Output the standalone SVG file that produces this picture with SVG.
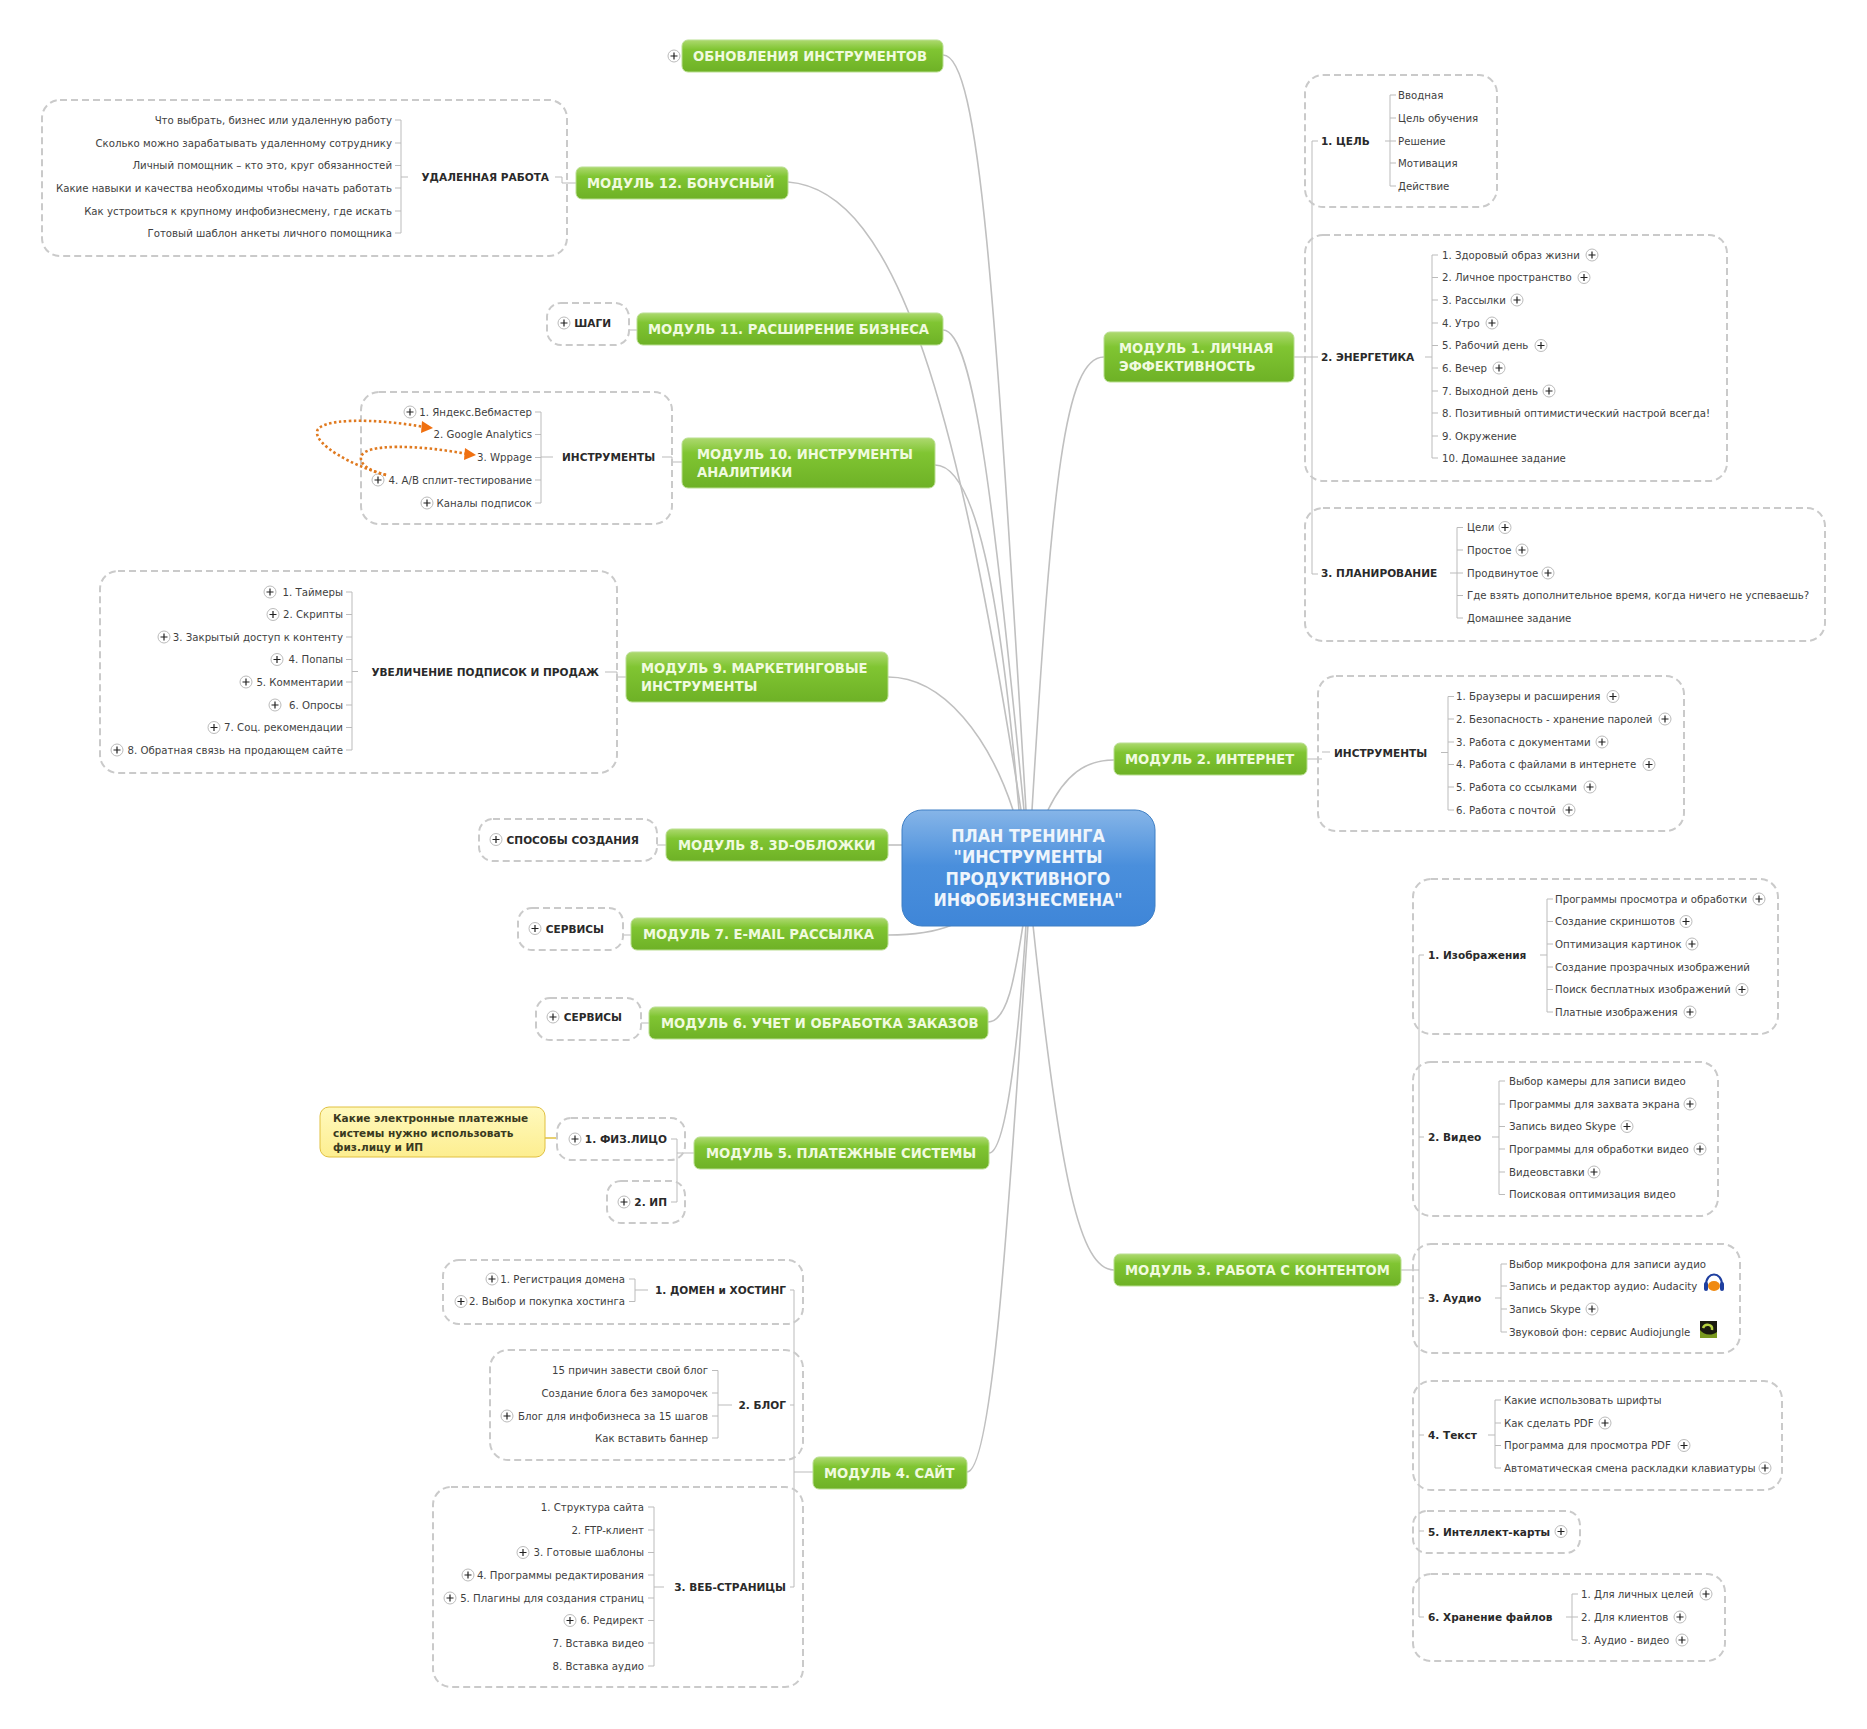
<svg xmlns="http://www.w3.org/2000/svg" width="1867" height="1729" viewBox="0 0 1867 1729">
<style>
text{font-family:"DejaVu Sans","Verdana",sans-serif;font-size:10.2px;fill:#3f3f3f;dominant-baseline:central}
.e{text-anchor:end}
.l{font-weight:bold;font-size:10.55px;fill:#2a2a2a}
.m{font-family:"DejaVu Sans Condensed","DejaVu Sans",sans-serif;font-stretch:condensed;font-weight:bold;font-size:14.65px;fill:#f0fadf;dominant-baseline:auto}
.c{font-family:"DejaVu Sans Condensed","DejaVu Sans",sans-serif;font-stretch:condensed;font-weight:bold;font-size:17.7px;fill:#eef5fc;text-anchor:middle;dominant-baseline:auto}
.y{font-weight:bold;font-size:10.55px;fill:#3a3a20;dominant-baseline:auto}
.b{fill:none;stroke:#cacaca;stroke-width:2;stroke-dasharray:7 4}
.g{fill:url(#gr);stroke:#b9de90;stroke-width:1}
.w{fill:none;stroke:#c0c0c0;stroke-width:1.6}
.t{fill:none;stroke:#bbb;stroke-width:1}
.o{fill:none;stroke:#e07a20;stroke-width:2.6;stroke-dasharray:2.500 2.500}
</style>
<defs>
<linearGradient id="gr" x1="0" y1="0" x2="0" y2="1"><stop offset="0" stop-color="#add96f"/><stop offset=".3" stop-color="#80c532"/><stop offset="1" stop-color="#6eb126"/></linearGradient>
<linearGradient id="bl" x1="0" y1="0" x2="0" y2="1"><stop offset="0" stop-color="#86b5e8"/><stop offset=".48" stop-color="#4a8fdc"/><stop offset="1" stop-color="#3f86d8"/></linearGradient>
<linearGradient id="ye" x1="0" y1="0" x2="0" y2="1"><stop offset="0" stop-color="#fff9bd"/><stop offset="1" stop-color="#fdee90"/></linearGradient>
<g id="p"><circle r="6" fill="#fff" stroke="#bbb"/><path d="M-3.500 0H3.500M0-3.500V3.500" stroke="#222" stroke-width="1.200"/></g>
</defs>
<rect width="1867" height="1729" fill="#fff"/>
<g id="connectors">
<path class="w" d="M943 55C980 55 995 300 1026 810"/>
<path class="w" d="M788 182C900 190 960 420 1021 810"/>
<path class="w" d="M943 330C975 330 995 520 1024 810"/>
<path class="w" d="M935 465C975 465 1000 590 1019 810"/>
<path class="w" d="M888 677C945 677 990 740 1013 810"/>
<path class="w" d="M888 845H902"/>
<path class="w" d="M888 935C910 935 935 932 952 925"/>
<path class="w" d="M988 1022C1008 1022 1015 975 1023 925"/>
<path class="w" d="M989 1153C1005 1153 1018 1050 1026 925"/>
<path class="w" d="M967 1472C995 1472 1012 1150 1028 925"/>
<path class="w" d="M1104 357C1065 357 1052 480 1032 810"/>
<path class="w" d="M1114 760C1085 760 1065 775 1048 810"/>
<path class="w" d="M1114 1270C1080 1270 1060 1180 1033 925"/>
<path class="t" d="M1294 357H1312M1312 141V574M1312 141H1318M1312 357H1318M1312 574H1318"/>
<path class="t" d="M1385 141H1390M1396 95H1390V186H1396M1390 118H1396M1390 141H1396M1390 163H1396"/>
<path class="t" d="M1425 357H1432M1438 255H1432V458H1438M1432 277.500H1438M1432 300H1438M1432 323H1438M1432 345.500H1438M1432 368H1438M1432 391H1438M1432 413H1438M1432 436H1438"/>
<path class="t" d="M1450 573H1457M1463 527.500H1457V618H1463M1457 550H1463M1457 573H1463M1457 595.500H1463"/>
<path class="t" d="M1307 759H1322M1322 752H1330M1441 752.500H1448M1454 696.500H1448V810H1454M1448 719H1454M1448 742H1454M1448 764.500H1454M1448 787H1454"/>
<path class="t" d="M1401 1270H1419M1419 955V1617M1419 955H1424M1419 1137H1424M1419 1298H1424M1419 1435H1424M1419 1531H1424M1419 1617H1424"/>
<path class="t" d="M1540 955H1547M1553 899H1547V1012H1553M1547 921.500H1553M1547 944H1553M1547 967H1553M1547 989.500H1553"/>
<path class="t" d="M1492 1137H1499M1505 1081H1499V1194.500H1505M1499 1104H1505M1499 1126.500H1505M1499 1149H1505M1499 1172H1505"/>
<path class="t" d="M1495 1298H1501M1507 1264H1501V1332H1507M1501 1286H1507M1501 1309H1507"/>
<path class="t" d="M1488 1435H1495M1501 1400H1495V1468H1501M1495 1423H1501M1495 1445.500H1501"/>
<path class="t" d="M1566 1617H1572M1578 1594H1572V1640H1578M1572 1617H1578"/>
<path class="t" d="M576 183H562V177H555M408 177H401M395 120H401V233H395M401 143H395M401 165.500H395M401 188H395M401 211H395"/>
<path class="t" d="M637 330H629M666 845H657M631 935H623M649 1023H641"/>
<path class="t" d="M682 462H672V457H662M553 457H541M535 412H541V503H535M541 434.500H535M541 457.500H535M541 480H535"/>
<path class="t" d="M626 677H617V672H605M358 671.500H352M346 592H352V750H346M352 614.500H346M352 637H346M352 659.500H346M352 682H346M352 705H346M352 727.500H346"/>
<path class="t" d="M694 1153H677M671 1139H677V1202H671"/>
<path d="M545 1138H557" fill="none" stroke="#e0c040" stroke-width="1.500"/>
<path class="t" d="M813 1472H794M794 1290V1587M794 1290H790M794 1405H790M794 1587H790"/>
<path class="t" d="M648 1290H635M629 1279H635V1301.500H629"/>
<path class="t" d="M732 1405H718M712 1370.500H718V1438H712M718 1393H712M718 1416H712"/>
<path class="t" d="M664 1587H654M648 1507H654V1666H648M654 1530H648M654 1552.500H648M654 1575H648M654 1598H648M654 1620.500H648M654 1643H648"/>
</g>
<g id="central"><rect x="902" y="810" width="253" height="116" rx="20" fill="url(#bl)" stroke="#3f7fc4"/>
<text class="c" x="1028" y="842">ПЛАН ТРЕНИНГА</text><text class="c" x="1028" y="863">"ИНСТРУМЕНТЫ</text><text class="c" x="1028" y="885">ПРОДУКТИВНОГО</text><text class="c" x="1028" y="906">ИНФОБИЗНЕСМЕНА"</text></g>
<g id="updates"><use href="#p" x="674" y="56"/><rect class="g" x="682" y="40" width="261" height="32" rx="6"/><text class="m" x="693" y="61">ОБНОВЛЕНИЯ ИНСТРУМЕНТОВ</text></g>
<g id="m12"><rect class="g" x="576" y="167" width="212" height="32" rx="6"/><text class="m" x="587" y="188">МОДУЛЬ 12. БОНУСНЫЙ</text></g>
<g id="m12a"><rect class="b" x="42" y="100" width="525" height="156" rx="18"/><text class="l e" x="549" y="177">УДАЛЕННАЯ РАБОТА</text>
<text class="e" x="392" y="120">Что выбрать, бизнес или удаленную работу</text><text class="e" x="392" y="143">Сколько можно зарабатывать удаленному сотруднику</text><text class="e" x="392" y="165.500">Личный помощник – кто это, круг обязанностей</text><text class="e" x="392" y="188">Какие навыки и качества необходимы чтобы начать работать</text><text class="e" x="392" y="211">Как устроиться к крупному инфобизнесмену, где искать</text><text class="e" x="392" y="233">Готовый шаблон анкеты личного помощника</text></g>
<g id="m11"><rect class="g" x="637" y="313" width="306" height="32" rx="6"/><text class="m" x="648" y="334">МОДУЛЬ 11. РАСШИРЕНИЕ БИЗНЕСА</text></g>
<g id="m11a"><rect class="b" x="547" y="303" width="82" height="42" rx="14"/><use href="#p" x="564" y="323"/><text class="l e" x="611" y="323">ШАГИ</text></g>
<g id="m10"><rect class="g" x="682" y="438" width="253" height="50" rx="6"/><text class="m" x="697" y="459">МОДУЛЬ 10. ИНСТРУМЕНТЫ</text><text class="m" x="697" y="477">АНАЛИТИКИ</text></g>
<g id="m10a"><rect class="b" x="361" y="392" width="311" height="132" rx="18"/><text class="l" x="562" y="457">ИНСТРУМЕНТЫ</text>
<use href="#p" x="410" y="412"/><text class="e" x="532" y="412">1. Яндекс.Вебмастер</text><text class="e" x="532" y="434.500">2. Google Analytics</text><text class="e" x="532" y="457">3. Wppage</text><use href="#p" x="378" y="480"/><text class="e" x="532" y="480">4. A/B сплит-тестирование</text><use href="#p" x="427" y="503"/><text class="e" x="532" y="503">Каналы подписок</text></g>
<g id="relations"><path class="o" d="M386 475C350 465 316 445 317 432C318 418 375 418 424 427"/><path d="M433 428L422 421L421 433Z" fill="#f07010"/>
<path class="o" d="M386 475C365 470 360 462 361 457C364 443 420 445 467 454"/><path d="M476 455L465 448L464 460Z" fill="#f07010"/></g>
<g id="m9"><rect class="g" x="626" y="652" width="262" height="50" rx="6"/><text class="m" x="641" y="673">МОДУЛЬ 9. МАРКЕТИНГОВЫЕ</text><text class="m" x="641" y="691">ИНСТРУМЕНТЫ</text></g>
<g id="m9a"><rect class="b" x="100" y="571" width="517" height="202" rx="18"/><text class="l e" x="599" y="671.500">УВЕЛИЧЕНИЕ ПОДПИСОК И ПРОДАЖ</text>
<use href="#p" x="270" y="592"/><text class="e" x="343" y="592">1. Таймеры</text><use href="#p" x="273" y="614.500"/><text class="e" x="343" y="614.500">2. Скрипты</text><use href="#p" x="164" y="637"/><text class="e" x="343" y="637">3. Закрытый доступ к контенту</text><use href="#p" x="277" y="659.500"/><text class="e" x="343" y="659.500">4. Попапы</text><use href="#p" x="246" y="682"/><text class="e" x="343" y="682">5. Комментарии</text><use href="#p" x="275" y="705"/><text class="e" x="343" y="705">6. Опросы</text><use href="#p" x="214" y="727.500"/><text class="e" x="343" y="727.500">7. Соц. рекомендации</text><use href="#p" x="117" y="750"/><text class="e" x="343" y="750">8. Обратная связь на продающем сайте</text></g>
<g id="m8"><rect class="g" x="666" y="829" width="222" height="32" rx="6"/><text class="m" x="678" y="850">МОДУЛЬ 8. 3D-ОБЛОЖКИ</text></g>
<g id="m8a"><rect class="b" x="479" y="819" width="178" height="42" rx="14"/><use href="#p" x="496" y="839.500"/><text class="l e" x="639" y="839.500">СПОСОБЫ СОЗДАНИЯ</text></g>
<g id="m7"><rect class="g" x="631" y="918" width="257" height="32" rx="6"/><text class="m" x="643" y="939">МОДУЛЬ 7. E-MAIL РАССЫЛКА</text></g>
<g id="m7a"><rect class="b" x="518" y="908" width="105" height="42" rx="14"/><use href="#p" x="535" y="928.500"/><text class="l e" x="604" y="928.500">СЕРВИСЫ</text></g>
<g id="m6"><rect class="g" x="649" y="1007" width="339" height="32" rx="6"/><text class="m" x="661" y="1028">МОДУЛЬ 6. УЧЕТ И ОБРАБОТКА ЗАКАЗОВ</text></g>
<g id="m6a"><rect class="b" x="536" y="998" width="105" height="42" rx="14"/><use href="#p" x="553" y="1017"/><text class="l e" x="622" y="1017">СЕРВИСЫ</text></g>
<g id="m5"><rect class="g" x="694" y="1137" width="295" height="32" rx="6"/><text class="m" x="706" y="1158">МОДУЛЬ 5. ПЛАТЕЖНЫЕ СИСТЕМЫ</text></g>
<g id="m5a"><rect class="b" x="557" y="1118" width="128" height="42" rx="14"/><use href="#p" x="575" y="1139"/><text class="l e" x="667" y="1139">1. ФИЗ.ЛИЦО</text></g>
<g id="m5b"><rect class="b" x="607" y="1181" width="78" height="42" rx="14"/><use href="#p" x="624" y="1202"/><text class="l e" x="667" y="1202">2. ИП</text></g>
<g id="note"><rect x="320" y="1107" width="225" height="50" rx="9" fill="url(#ye)" stroke="#e0c040"/><text class="y" x="333" y="1122">Какие электронные платежные</text><text class="y" x="333" y="1136.500">системы нужно использовать</text><text class="y" x="333" y="1151">физ.лицу и ИП</text></g>
<g id="m4"><rect class="g" x="813" y="1457" width="154" height="32" rx="6"/><text class="m" x="824" y="1478">МОДУЛЬ 4. САЙТ</text></g>
<g id="m4a"><rect class="b" x="443" y="1260" width="360" height="64" rx="16"/><text class="l e" x="786" y="1290">1. ДОМЕН и ХОСТИНГ</text><use href="#p" x="492" y="1279"/><text class="e" x="625" y="1279">1. Регистрация домена</text><use href="#p" x="461" y="1301.500"/><text class="e" x="625" y="1301.500">2. Выбор и покупка хостинга</text></g>
<g id="m4b"><rect class="b" x="490" y="1350" width="313" height="110" rx="18"/><text class="l e" x="786" y="1405">2. БЛОГ</text><text class="e" x="708" y="1370.500">15 причин завести свой блог</text><text class="e" x="708" y="1393">Создание блога без заморочек</text><use href="#p" x="507" y="1416"/><text class="e" x="708" y="1416">Блог для инфобизнеса за 15 шагов</text><text class="e" x="708" y="1438">Как вставить баннер</text></g>
<g id="m4c"><rect class="b" x="433" y="1487" width="370" height="200" rx="18"/><text class="l e" x="786" y="1587">3. ВЕБ-СТРАНИЦЫ</text><text class="e" x="644" y="1507">1. Структура сайта</text><text class="e" x="644" y="1530">2. FTP-клиент</text><use href="#p" x="523" y="1552.500"/><text class="e" x="644" y="1552.500">3. Готовые шаблоны</text><use href="#p" x="468" y="1575"/><text class="e" x="644" y="1575">4. Программы редактирования</text><use href="#p" x="450" y="1598"/><text class="e" x="644" y="1598">5. Плагины для создания страниц</text><use href="#p" x="570" y="1620.500"/><text class="e" x="644" y="1620.500">6. Редирект</text><text class="e" x="644" y="1643">7. Вставка видео</text><text class="e" x="644" y="1666">8. Вставка аудио</text></g>
<g id="m1"><rect class="g" x="1104" y="332" width="190" height="50" rx="6"/><text class="m" x="1119" y="353">МОДУЛЬ 1. ЛИЧНАЯ</text><text class="m" x="1119" y="371">ЭФФЕКТИВНОСТЬ</text></g>
<g id="m1a"><rect class="b" x="1305" y="75" width="192" height="132" rx="18"/><text class="l" x="1321" y="141">1. ЦЕЛЬ</text><text x="1398" y="95">Вводная</text><text x="1398" y="118">Цель обучения</text><text x="1398" y="141">Решение</text><text x="1398" y="163">Мотивация</text><text x="1398" y="186">Действие</text></g>
<g id="m1b"><rect class="b" x="1305" y="235" width="422" height="246" rx="18"/><text class="l" x="1321" y="357">2. ЭНЕРГЕТИКА</text>
<text x="1442" y="255">1. Здоровый образ жизни</text><use href="#p" x="1592" y="255"/><text x="1442" y="277.500">2. Личное пространство</text><use href="#p" x="1584" y="277.500"/><text x="1442" y="300">3. Рассылки</text><use href="#p" x="1517" y="300"/><text x="1442" y="323">4. Утро</text><use href="#p" x="1492" y="323"/><text x="1442" y="345.500">5. Рабочий день</text><use href="#p" x="1541" y="345.500"/><text x="1442" y="368">6. Вечер</text><use href="#p" x="1499" y="368"/><text x="1442" y="391">7. Выходной день</text><use href="#p" x="1549" y="391"/><text x="1442" y="413">8. Позитивный оптимистический настрой всегда!</text><text x="1442" y="436">9. Окружение</text><text x="1442" y="458.500">10. Домашнее задание</text></g>
<g id="m1c"><rect class="b" x="1305" y="508" width="520" height="133" rx="18"/><text class="l" x="1321" y="573">3. ПЛАНИРОВАНИЕ</text>
<text x="1467" y="527.500">Цели</text><use href="#p" x="1505" y="527.500"/><text x="1467" y="550">Простое</text><use href="#p" x="1522" y="550"/><text x="1467" y="573">Продвинутое</text><use href="#p" x="1548" y="573"/><text x="1467" y="595.500">Где взять дополнительное время, когда ничего не успеваешь?</text><text x="1467" y="618">Домашнее задание</text></g>
<g id="m2"><rect class="g" x="1114" y="743" width="193" height="32" rx="6"/><text class="m" x="1125" y="764">МОДУЛЬ 2. ИНТЕРНЕТ</text></g>
<g id="m2a"><rect class="b" x="1318" y="676" width="366" height="155" rx="18"/><text class="l" x="1334" y="752.500">ИНСТРУМЕНТЫ</text>
<text x="1456" y="696.500">1. Браузеры и расширения</text><use href="#p" x="1613" y="696.500"/><text x="1456" y="719">2. Безопасность - хранение паролей</text><use href="#p" x="1665" y="719"/><text x="1456" y="742">3. Работа с документами</text><use href="#p" x="1602" y="742"/><text x="1456" y="764.500">4. Работа с файлами в интернете</text><use href="#p" x="1649" y="764.500"/><text x="1456" y="787">5. Работа со ссылками</text><use href="#p" x="1590" y="787"/><text x="1456" y="810">6. Работа с почтой</text><use href="#p" x="1569" y="810"/></g>
<g id="m3"><rect class="g" x="1114" y="1254" width="287" height="32" rx="6"/><text class="m" x="1125" y="1275">МОДУЛЬ 3. РАБОТА С КОНТЕНТОМ</text></g>
<g id="m3a"><rect class="b" x="1413" y="879" width="365" height="155" rx="18"/><text class="l" x="1428" y="955">1. Изображения</text>
<text x="1555" y="899">Программы просмотра и обработки</text><use href="#p" x="1759" y="899"/><text x="1555" y="921.500">Создание скриншотов</text><use href="#p" x="1686" y="921.500"/><text x="1555" y="944">Оптимизация картинок</text><use href="#p" x="1692" y="944"/><text x="1555" y="967">Создание прозрачных изображений</text><text x="1555" y="989.500">Поиск бесплатных изображений</text><use href="#p" x="1742" y="989.500"/><text x="1555" y="1012">Платные изображения</text><use href="#p" x="1690" y="1012"/></g>
<g id="m3b"><rect class="b" x="1413" y="1062" width="305" height="154" rx="18"/><text class="l" x="1428" y="1137">2. Видео</text>
<text x="1509" y="1081">Выбор камеры для записи видео</text><text x="1509" y="1104">Программы для захвата экрана</text><use href="#p" x="1690" y="1104"/><text x="1509" y="1126.500">Запись видео Skype</text><use href="#p" x="1627" y="1126.500"/><text x="1509" y="1149">Программы для обработки видео</text><use href="#p" x="1700" y="1149"/><text x="1509" y="1172">Видеовставки</text><use href="#p" x="1594" y="1172"/><text x="1509" y="1194.500">Поисковая оптимизация видео</text></g>
<g id="m3c"><rect class="b" x="1413" y="1244" width="327" height="109" rx="18"/><text class="l" x="1428" y="1298">3. Аудио</text>
<text x="1509" y="1264">Выбор микрофона для записи аудио</text><text x="1509" y="1286">Запись и редактор аудио: Audacity</text><text x="1509" y="1309">Запись Skype</text><use href="#p" x="1592" y="1309"/><text x="1509" y="1332">Звуковой фон: сервис Audiojungle</text>
<path d="M1706 1285C1706 1271 1722 1271 1722 1285" fill="none" stroke="#1f3f9f" stroke-width="2.200"/><rect x="1704" y="1282" width="4" height="9" rx="2" fill="#1f3f9f"/><rect x="1720" y="1282" width="4" height="9" rx="2" fill="#1f3f9f"/><ellipse cx="1714" cy="1286" rx="6" ry="5" fill="#f08a10"/>
<rect x="1700" y="1321" width="17" height="17" fill="#7a9a20"/><path d="M1700 1321H1717V1332C1710 1337 1703 1334 1700 1330Z" fill="#1a1a10"/><path d="M1703 1328C1705 1323 1713 1324 1712 1330" fill="none" stroke="#b5d040" stroke-width="2.500"/></g>
<g id="m3d"><rect class="b" x="1413" y="1381" width="369" height="109" rx="18"/><text class="l" x="1428" y="1435">4. Текст</text>
<text x="1504" y="1400">Какие использовать шрифты</text><text x="1504" y="1423">Как сделать PDF</text><use href="#p" x="1605" y="1423"/><text x="1504" y="1445.500">Программа для просмотра PDF</text><use href="#p" x="1684" y="1445.500"/><text x="1504" y="1468">Автоматическая смена раскладки клавиатуры</text><use href="#p" x="1765" y="1468"/></g>
<g id="m3e"><rect class="b" x="1413" y="1511" width="167" height="42" rx="14"/><text class="l" x="1428" y="1531.500">5. Интеллект-карты</text><use href="#p" x="1561" y="1531.500"/></g>
<g id="m3f"><rect class="b" x="1413" y="1574" width="312" height="87" rx="18"/><text class="l" x="1428" y="1617">6. Хранение файлов</text>
<text x="1581" y="1594">1. Для личных целей</text><use href="#p" x="1706" y="1594"/><text x="1581" y="1617">2. Для клиентов</text><use href="#p" x="1680" y="1617"/><text x="1581" y="1640">3. Аудио - видео</text><use href="#p" x="1682" y="1640"/></g>
</svg>
